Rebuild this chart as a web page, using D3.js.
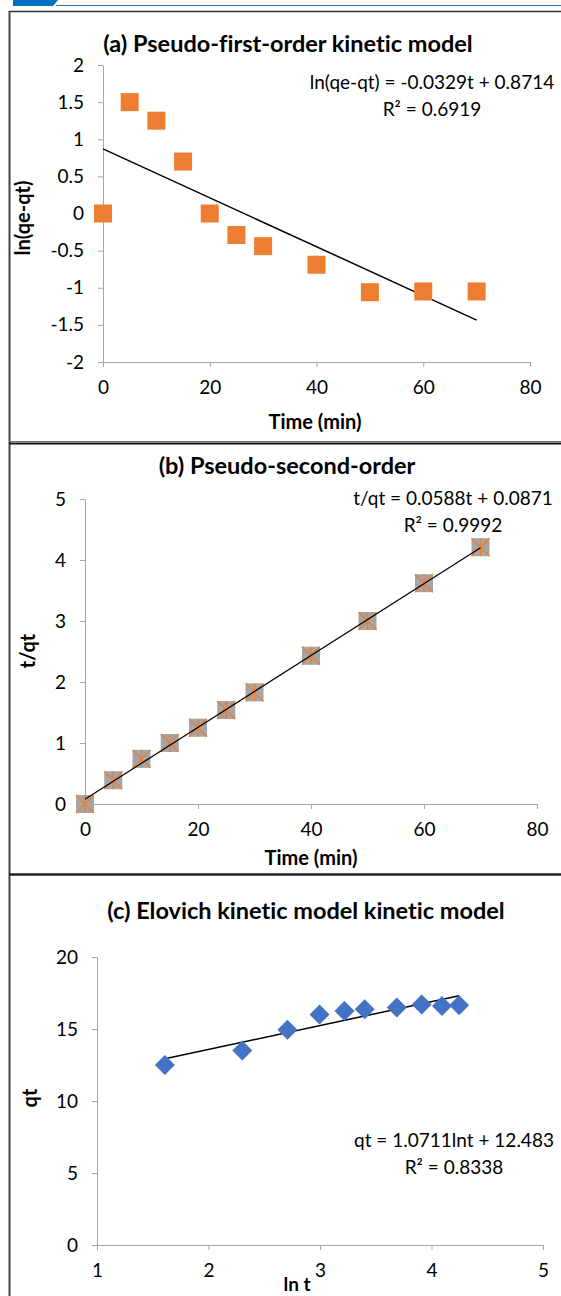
<!DOCTYPE html>
<html>
<head>
<meta charset="utf-8">
<script src="https://cdn.jsdelivr.net/npm/d3@7"></script>
<style>
  body { margin: 0; background: #fff; }
  svg { display: block; font-family: Lato, "Open Sans", sans-serif; font-variant-ligatures: none; }
</style>
</head>
<body>
<svg id="fig" width="561" height="1296"></svg>
<script>
// data
var timeMin = [0, 5, 10, 15, 20, 25, 30, 40, 50, 60, 70];
var lnQeQt = [0, 1.5, 1.25, 0.7, 0, -0.29, -0.44, -0.69, -1.06, -1.05, -1.05];
var tOverQt = [0, 0.39, 0.74, 1.0, 1.25, 1.54, 1.83, 2.43, 3.0, 3.62, 4.21];
var lnT = [1.609, 2.303, 2.708, 2.996, 3.219, 3.401, 3.689, 3.912, 4.094, 4.248];
var qt = [12.5, 13.5, 14.95, 16.0, 16.25, 16.37, 16.5, 16.7, 16.6, 16.65];

var ticksA = [-2, -1.5, -1, -0.5, 0, 0.5, 1, 1.5, 2];
var ticksB = [0, 1, 2, 3, 4, 5];
var ticksC = [0, 5, 10, 15, 20];
var ticksTime = [0, 20, 40, 60, 80];
var ticksLnT = [1, 2, 3, 4, 5];

var titles = ['(a) Pseudo-first-order kinetic model', '(b) Pseudo-second-order', '(c) Elovich kinetic model kinetic model'];
var equations = ['ln(qe-qt) = -0.0329t + 0.8714', 't/qt = 0.0588t + 0.0871', 'qt = 1.0711lnt + 12.483'];
var r2Labels = ['R² = 0.6919', 'R² = 0.9992', 'R² = 0.8338'];
var xTitles = ['Time (min)', 'Time (min)', 'ln t'];
var yTitles = ['ln(qe-qt)', 't/qt', 'qt'];

var svg = d3.select('#fig');

// frame and header decoration
svg.append('path').attr('d', 'M13,0 L58,0 L53,6 L13,6 Z').attr('fill', '#0070C0');
svg.append('line').attr('x1', 56).attr('x2', 561).attr('y1', 5.5).attr('y2', 5.5)
  .attr('stroke', '#2E75B6').attr('stroke-width', 1.2);
svg.append('line').attr('x1', 9).attr('x2', 561).attr('y1', 11.5).attr('y2', 11.5)
  .attr('stroke', '#333').attr('stroke-width', 1.5);
svg.append('line').attr('x1', 9.5).attr('x2', 9.5).attr('y1', 11).attr('y2', 1296)
  .attr('stroke', '#444').attr('stroke-width', 2);
svg.append('line').attr('x1', 9).attr('x2', 561).attr('y1', 441.5).attr('y2', 441.5)
  .attr('stroke', '#777').attr('stroke-width', 1);
svg.append('line').attr('x1', 9).attr('x2', 561).attr('y1', 443.5).attr('y2', 443.5)
  .attr('stroke', '#111').attr('stroke-width', 2);
svg.append('line').attr('x1', 9).attr('x2', 561).attr('y1', 874.5).attr('y2', 874.5)
  .attr('stroke', '#222').attr('stroke-width', 2.5);

function fit(xs, ys) {
  var mx = d3.mean(xs), my = d3.mean(ys);
  var sxy = d3.sum(xs, function(d, i) { return (d - mx) * (ys[i] - my); });
  var sxx = d3.sum(xs, function(d) { return (d - mx) * (d - mx); });
  var b = sxy / sxx;
  return {slope: b, icpt: my - b * mx};
}

function panel(cfg) {
  var x = d3.scaleLinear().domain(cfg.xDom).range([cfg.left, cfg.right]);
  var y = d3.scaleLinear().domain(cfg.yDom).range([cfg.bottom, cfg.top]);
  var g = svg.append('g');

  g.append('text')
    .attr('x', cfg.titleX).attr('y', cfg.titleY)
    .attr('text-anchor', 'middle').attr('dy', '0.35em')
    .style('font-size', '23.5px').style('font-weight', 'bold')
    .text(cfg.title);

  var xAxis = g.append('g')
    .attr('transform', 'translate(0,' + cfg.bottom + ')')
    .call(d3.axisBottom(x).tickValues(cfg.xTicks).tickSize(5).tickSizeOuter(0).tickPadding(14)
      .tickFormat(function(d) { return String(d); }));
  var yAxis = g.append('g')
    .attr('transform', 'translate(' + cfg.left + ',0)')
    .call(d3.axisLeft(y).tickValues(cfg.yTicks).tickSize(5).tickSizeOuter(0).tickPadding(14)
      .tickFormat(function(d) { return String(d); }));
  [xAxis, yAxis].forEach(function(a) {
    a.select('.domain').attr('stroke', '#A6A6A6');
    a.selectAll('.tick line').attr('stroke', '#A6A6A6');
    a.selectAll('.tick text').attr('fill', '#000').style('font-size', '19px').style('font-family', 'Lato, sans-serif');
  });

  g.append('text')
    .attr('x', cfg.xTitleX).attr('y', cfg.xTitleY).attr('dy', '0.35em')
    .attr('text-anchor', 'middle')
    .style('font-size', cfg.xTitleSize || '20px').style('font-weight', 'bold')
    .text(cfg.xTitle);
  g.append('text')
    .attr('transform', 'translate(' + cfg.yTitleX + ',' + cfg.yTitleY + ') rotate(-90)')
    .attr('dy', '0.35em').attr('text-anchor', 'middle')
    .style('font-size', '20px').style('font-weight', 'bold')
    .text(cfg.yTitle);

  // trendline (least squares through the points)
  var f = fit(cfg.xs, cfg.ys);
  var x0 = d3.min(cfg.xs), x1 = d3.max(cfg.xs);
  var trend = function(sel, w) {
    sel.append('line')
      .attr('x1', x(x0)).attr('y1', y(f.icpt + f.slope * x0))
      .attr('x2', x(x1)).attr('y2', y(f.icpt + f.slope * x1))
      .attr('stroke', '#000').attr('stroke-width', w);
  };
  if (!cfg.lineOnTop) trend(g, 1.5);

  var pts = g.selectAll('.pt').data(cfg.xs.map(function(d, i) { return [d, cfg.ys[i]]; }))
    .enter().append('g').attr('class', 'pt')
    .attr('transform', function(d) { return 'translate(' + x(d[0]) + ',' + y(d[1]) + ')'; });
  cfg.marker(pts);

  if (cfg.lineOnTop) trend(g, 1.2);

  // trendline label
  var lab = g.append('text').attr('text-anchor', 'middle').style('font-size', '19px');
  lab.append('tspan').attr('x', cfg.eqX).attr('y', cfg.eqY).attr('dy', '0.35em').text(cfg.eq);
  lab.append('tspan').attr('x', cfg.eqX).attr('y', cfg.eqY + 27).attr('dy', '0.35em').text(cfg.r2);
}

function squareMarker(sel) {
  sel.append('rect').attr('x', -9).attr('y', -9).attr('width', 18).attr('height', 18)
    .attr('fill', '#ED7D31');
}
function starMarker(sel) {
  sel.append('rect').attr('x', -9).attr('y', -9).attr('width', 18).attr('height', 18)
    .attr('fill', '#A5A5A5');
  sel.append('path').attr('d', 'M-9,-9L9,9M9,-9L-9,9M0,-9L0,9')
    .attr('stroke', '#ED7D31').attr('stroke-width', 1.3).attr('fill', 'none');
}
function diamondMarker(sel) {
  sel.append('path').attr('d', 'M0,-10L10,0L0,10L-10,0Z').attr('fill', '#4472C4');
}

panel({
  left: 103, right: 530, top: 65, bottom: 362, xDom: [0, 80], yDom: [-2, 2],
  xTicks: ticksTime, yTicks: ticksA, xs: timeMin, ys: lnQeQt, marker: squareMarker,
  title: titles[0], titleX: 288, titleY: 44,
  xTitle: xTitles[0], xTitleX: 315, xTitleY: 422,
  yTitle: yTitles[0], yTitleX: 23, yTitleY: 218,
  eq: equations[0], r2: r2Labels[0], eqX: 432, eqY: 82
});
panel({
  left: 85, right: 537, top: 499, bottom: 804, xDom: [0, 80], yDom: [0, 5],
  xTicks: ticksTime, yTicks: ticksB, xs: timeMin, ys: tOverQt, marker: starMarker, lineOnTop: true,
  title: titles[1], titleX: 287, titleY: 466,
  xTitle: xTitles[1], xTitleX: 311, xTitleY: 858,
  yTitle: yTitles[1], yTitleX: 28, yTitleY: 651,
  eq: equations[1], r2: r2Labels[1], eqX: 453, eqY: 498
});
panel({
  left: 97, right: 543, top: 957, bottom: 1245, xDom: [1, 5], yDom: [0, 20],
  xTicks: ticksLnT, yTicks: ticksC, xs: lnT, ys: qt, marker: diamondMarker,
  title: titles[2], titleX: 306, titleY: 911,
  xTitle: xTitles[2], xTitleX: 297, xTitleY: 1284, xTitleSize: '19px',
  yTitle: yTitles[2], yTitleX: 30, yTitleY: 1098,
  eq: equations[2], r2: r2Labels[2], eqX: 454, eqY: 1140
});
</script>
</body>
</html>
